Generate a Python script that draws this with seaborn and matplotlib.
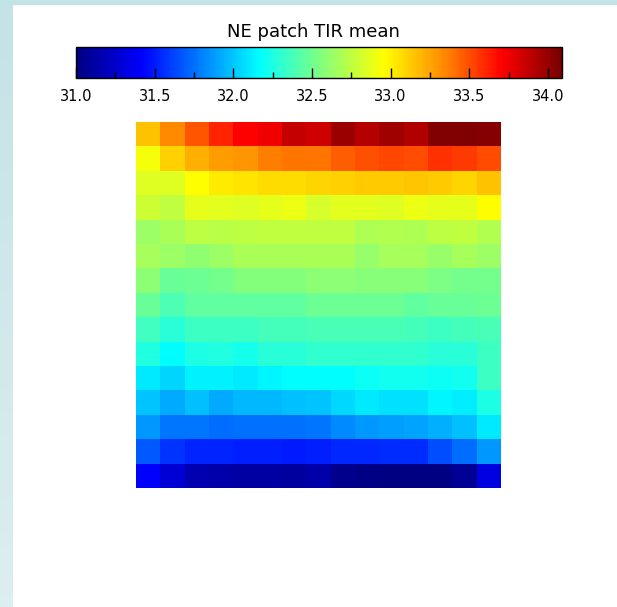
import numpy as np
import pandas as pd
import matplotlib
matplotlib.use("Agg")
import matplotlib.pyplot as plt
import seaborn as sns
from matplotlib.colors import LinearSegmentedColormap

# NE patch TIR mean, one list per image row (top row first)
row00 = [33.15, 33.34, 33.48, 33.61, 33.71, 33.75, 33.87, 33.84, 33.99, 33.92, 33.97, 33.93, 34.06, 34.06, 34.05]
row01 = [32.93, 33.11, 33.21, 33.27, 33.30, 33.37, 33.39, 33.40, 33.46, 33.49, 33.52, 33.51, 33.58, 33.55, 33.51]
row02 = [32.85, 32.85, 32.96, 33.02, 33.05, 33.07, 33.07, 33.10, 33.11, 33.13, 33.13, 33.14, 33.13, 33.10, 33.15]
row03 = [32.79, 32.76, 32.88, 32.87, 32.85, 32.88, 32.90, 32.83, 32.87, 32.87, 32.85, 32.90, 32.88, 32.88, 32.96]
row04 = [32.63, 32.68, 32.75, 32.73, 32.75, 32.76, 32.76, 32.76, 32.76, 32.70, 32.71, 32.70, 32.75, 32.76, 32.71]
row05 = [32.67, 32.63, 32.60, 32.63, 32.68, 32.68, 32.68, 32.68, 32.68, 32.62, 32.67, 32.67, 32.62, 32.67, 32.63]
row06 = [32.59, 32.48, 32.49, 32.52, 32.56, 32.56, 32.56, 32.59, 32.59, 32.57, 32.57, 32.57, 32.54, 32.52, 32.51]
row07 = [32.48, 32.40, 32.45, 32.46, 32.46, 32.46, 32.46, 32.49, 32.49, 32.49, 32.49, 32.46, 32.48, 32.48, 32.49]
row08 = [32.36, 32.28, 32.34, 32.35, 32.35, 32.37, 32.37, 32.38, 32.38, 32.38, 32.38, 32.37, 32.35, 32.37, 32.38]
row09 = [32.26, 32.17, 32.25, 32.26, 32.23, 32.28, 32.29, 32.31, 32.31, 32.31, 32.31, 32.31, 32.29, 32.28, 32.35]
row10 = [32.11, 32.05, 32.13, 32.13, 32.11, 32.14, 32.17, 32.17, 32.17, 32.20, 32.21, 32.21, 32.20, 32.21, 32.35]
row11 = [32.00, 31.92, 31.98, 31.92, 31.96, 31.96, 31.98, 32.00, 32.06, 32.11, 32.08, 32.08, 32.14, 32.12, 32.25]
row12 = [31.86, 31.77, 31.77, 31.74, 31.76, 31.76, 31.76, 31.77, 31.83, 31.86, 31.89, 31.90, 31.93, 31.98, 32.11]
row13 = [31.68, 31.57, 31.52, 31.52, 31.51, 31.51, 31.50, 31.51, 31.54, 31.54, 31.55, 31.55, 31.65, 31.74, 31.86]
row14 = [31.42, 31.28, 31.16, 31.14, 31.12, 31.12, 31.10, 31.14, 31.04, 31.02, 31.00, 31.00, 31.00, 31.07, 31.32]

cbar_ticks = [31.0, 31.5, 32.0, 32.5, 33.0, 33.5, 34.0]
cbar_minor = [31.25, 31.75, 32.25, 32.75, 33.25, 33.75]
vmin, vmax = 31.0, 34.09

# colour table (value, colour)
cmap_values = [31.0, 31.42, 32.165, 32.55, 32.96, 33.37, 33.71, 34.09]
cmap_colors = ["#000082", "#0000ff", "#00ffff", "#80ff80", "#ffff00", "#ff8000", "#ff0000", "#780000"]
tir_cmap = LinearSegmentedColormap.from_list(
    "tir", [((v - vmin) / (vmax - vmin), c) for v, c in zip(cmap_values, cmap_colors)])

grid = pd.DataFrame([row00, row01, row02, row03, row04, row05, row06, row07,
                     row08, row09, row10, row11, row12, row13, row14])

fig = plt.figure(figsize=(6.17, 6.07), dpi=100)
fig.patch.set_facecolor("white")

# light teal frame strips on the left and top
strip = fig.add_axes([0, 0, 13 / 617, 1])
strip.imshow(np.linspace(0, 1, 50).reshape(-1, 1), aspect="auto",
             cmap=LinearSegmentedColormap.from_list("strip", ["#c3e3e6", "#dceef0"]))
strip.axis("off")
fig.patches.append(plt.Rectangle((0, 1 - 4 / 607), 1, 4 / 607, transform=fig.transFigure,
                                 color="#c3e3e6", zorder=0))

ax = fig.add_axes([136 / 617, 1 - 488 / 607, 365 / 617, 366 / 607])
cax = fig.add_axes([76 / 617, 1 - 78 / 607, 486 / 617, 31 / 607])

sns.heatmap(grid, ax=ax, cmap=tir_cmap, vmin=vmin, vmax=vmax,
            xticklabels=False, yticklabels=False,
            cbar_ax=cax, cbar_kws={"orientation": "horizontal"})
ax.tick_params(left=False, bottom=False)

cb = ax.collections[0].colorbar
cb.outline.set_edgecolor("black")
cb.outline.set_linewidth(1.0)
cax.set_xticks(cbar_ticks)
cax.set_xticks(cbar_minor, minor=True)
cax.set_xticklabels([f"{t:.1f}" for t in cbar_ticks])
cax.tick_params(axis="x", which="major", direction="in", length=7, width=1,
                labelsize=10.5, pad=8, colors="black")
cax.tick_params(axis="x", which="minor", direction="in", length=4, width=1)

fig.text(313 / 617, 1 - 32 / 607, "NE patch TIR mean", ha="center", va="center",
         fontsize=13, color="black")

fig.savefig("out.png", dpi=100)
